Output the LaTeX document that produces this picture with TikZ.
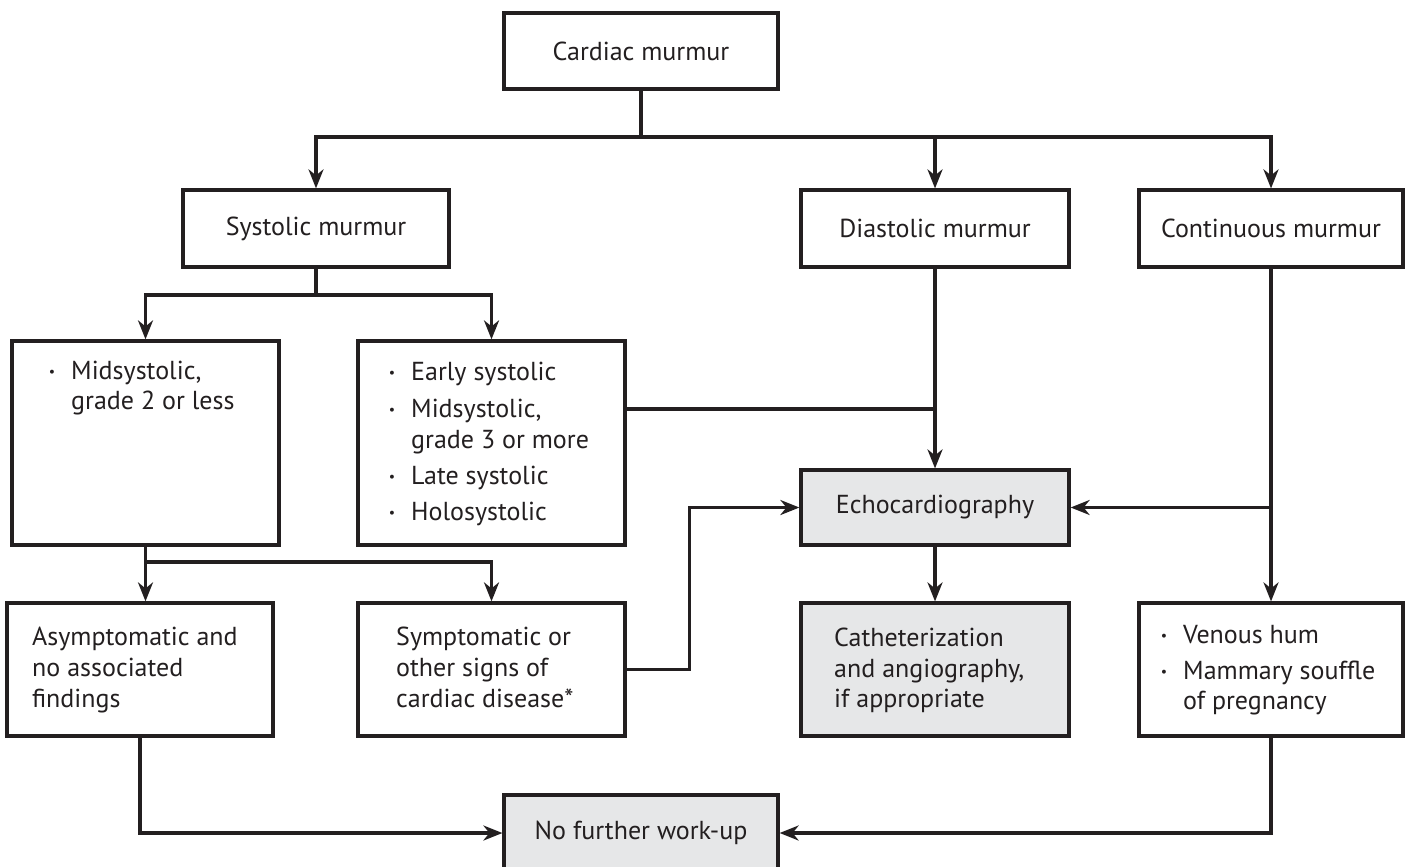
\documentclass[tikz,border=0pt]{standalone}
\usepackage{fontspec}
\setmainfont{PT Sans}
\usetikzlibrary{arrows.meta}
\definecolor{ink}{HTML}{231F20}
\definecolor{shade}{HTML}{E6E7E8}
\newcommand\bul{\llap{\raisebox{2.5pt}{\fontsize{14pt}{14pt}\selectfont •}\hspace{16pt}}}
\begin{document}
\begin{tikzpicture}[x=1pt,y=-1pt,
  box/.style={draw=ink, line width=3.2pt, rectangle, inner sep=0pt, text=ink},
  grey/.style={box, fill=shade},
  txt/.style={anchor=base west, inner sep=0pt, text=ink},
  link/.style={draw=ink, line width=3.1pt},
  arr/.style={link, -{Stealth[length=19pt,width=15pt,inset=6pt]}},
  font=\fontsize{26pt}{30pt}\selectfont]
\useasboundingbox (0,0) rectangle (1408,867);
\fill[white] (0,0) rectangle (1408,867);

% boxes
\node[box, minimum width=274pt, minimum height=76pt] (cardiac) at (641,51) {Cardiac murmur};
\node[box, minimum width=266pt, minimum height=77pt] (systolic) at (316,228.5) {Systolic murmur};
\node[box, minimum width=268pt, minimum height=77pt] (diastolic) at (935,228.5) {Diastolic murmur};
\node[box, minimum width=264pt, minimum height=77pt] (continuous) at (1271,228.5) {Continuous murmur};
\node[box, minimum width=267pt, minimum height=204pt] (midsys) at (145.5,443) {};
\node[box, minimum width=267pt, minimum height=204pt] (early) at (491.5,443) {};
\node[grey, minimum width=268pt, minimum height=75pt] (echo) at (935,507.5) {Echocardiography};
\node[box, minimum width=266pt, minimum height=133pt] (asymp) at (140,669.5) {};
\node[box, minimum width=267pt, minimum height=133pt] (symp) at (491.5,669.5) {};
\node[grey, minimum width=268pt, minimum height=133pt] (cath) at (935,669.5) {};
\node[box, minimum width=264pt, minimum height=133pt] (venous) at (1271,669.5) {};
\node[grey, minimum width=274pt, minimum height=76pt] (nofurther) at (641,833) {No further work-up};

% texts
\node[txt] (m1) at (71,379) {\bul Midsystolic,};
\node[txt] (m2) at (71,409) {grade 2 or less};
\node[txt] (e1) at (411,380) {\bul Early systolic};
\node[txt] (e2) at (411,417) {\bul Midsystolic,};
\node[txt] (e3) at (411,448) {grade 3 or more};
\node[txt] (e4) at (411,484) {\bul Late systolic};
\node[txt] (e5) at (411,520) {\bul Holosystolic};
\node[txt] (a1) at (32,645) {Asymptomatic and};
\node[txt] (a2) at (32,676) {no associated};
\node[txt] (a3) at (32,707) {findings};
\node[txt] (s1) at (396,645) {Symptomatic or};
\node[txt] (s2) at (396,676) {other signs of};
\node[txt] (s3) at (396,707) {cardiac disease*};
\node[txt] (c1) at (834,646) {Catheterization};
\node[txt] (c2) at (834,677) {and angiography,};
\node[txt] (c3) at (834,707) {if appropriate};
\node[txt] (v1) at (1183,643) {\bul Venous hum};
\node[txt] (v2) at (1183,679) {\bul Mammary souffle};
\node[txt] (v3) at (1183,709) {of pregnancy};

% junctions
\coordinate (j1) at (641,137);
\coordinate (j2) at (316,295);
\coordinate (j3) at (145.5,562);
\coordinate (j4) at (935,409);

% connectors
\draw[link] (cardiac.south) -- (j1);
\draw[arr] (j1) -| (systolic.north);
\draw[arr] (j1) -| (diastolic.north);
\draw[arr] (j1) -| (continuous.north);

\draw[link] (systolic.south) -- (j2);
\draw[arr] (j2) -| (midsys.north);
\draw[arr] (j2) -| (early.north);

\draw[link] (midsys.south) -- (j3);
\draw[arr] (j3) -- (j3 |- asymp.north);
\draw[arr] (j3) -| (symp.north);

\draw[link] (early.east |- j4) -- (j4);
\draw[arr] (diastolic.south) -- (echo.north);
\draw[arr] (symp.east) -- ++(63,0) |- (echo.west);
\draw[arr] (continuous.south) -- (venous.north);
\draw[arr] (continuous.south |- echo.east) -- (echo.east);
\draw[arr] (echo.south) -- (cath.north);

\draw[arr] (asymp.south) |- (nofurther.west);
\draw[arr] (venous.south) |- (nofurther.east);
\end{tikzpicture}
\end{document}
